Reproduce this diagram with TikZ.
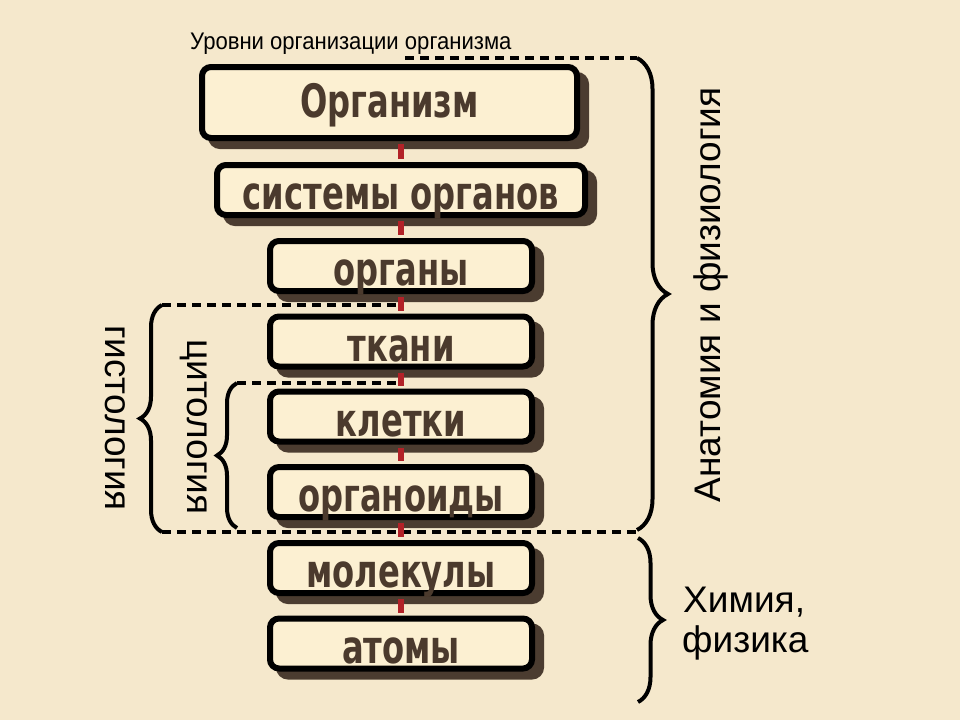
\documentclass[tikz,border=0pt]{standalone}
\usepackage{fontspec}
\setmainfont{Liberation Sans}
\newfontfamily\boxfont[FakeStretch=0.7]{DejaVu Sans}
\newfontfamily\titlefont[FakeStretch=0.92]{Liberation Sans}
\usetikzlibrary{shadows,decorations.pathreplacing}
\definecolor{bgc}{HTML}{F5E8CC}
\definecolor{boxc}{HTML}{FCF0D2}
\definecolor{shadowc}{HTML}{4B3C30}
\definecolor{txtc}{HTML}{4B3A2D}
\definecolor{redc}{HTML}{B22228}
\tikzset{
 lvl/.style={draw=black, line width=6pt, fill=boxc, rounded corners=9pt,
   minimum height=50pt, minimum width=262pt, inner sep=0pt,
   text height=39pt, text depth=0pt,
   font=\boxfont\bfseries\fontsize{46}{46}\selectfont, text=txtc,
   copy shadow={shadow xshift=9pt, shadow yshift=-8pt, fill=shadowc, draw=shadowc}},
 conn/.style={draw=redc, line width=6pt, shorten <=3pt, shorten >=3pt},
 dashln/.style={draw=black, line width=4.5pt, dash pattern=on 9pt off 6pt},
 brc/.style={draw=black, decorate, line width=4pt, decoration={brace, amplitude=#1}},
 lbl/.style={font=\fontsize{37}{40}\selectfont, text=black, inner sep=0pt},
}
\begin{document}
\begin{tikzpicture}[x=1pt,y=-1pt]
\fill[bgc] (0,0) rectangle (960,720);
\useasboundingbox (0,0) rectangle (960,720);

% title
\node[font=\titlefont\fontsize{24}{26}\selectfont, anchor=base west, inner sep=0pt] (title) at (190,49) {Уровни организации организма};

% level boxes
\node[lvl, minimum width=375pt, minimum height=71pt, text height=29pt] (org) at (389.5,102.5) {Организм};
\node[lvl, minimum width=368pt] (sys) at (401,190) {системы органов};
\node[lvl] (orgs) at (401,266) {органы};
\node[lvl] (tk) at (401,341.5) {ткани};
\node[lvl] (kl) at (401,416.5) {клетки};
\node[lvl] (ord) at (401,492) {органоиды};
\node[lvl] (mol) at (401,568) {молекулы};
\node[lvl] (at) at (401,643.5) {атомы};

% coordinates for braces
\coordinate (anaT) at (637,58);
\coordinate (anaB) at (637,530);
\coordinate (topL) at (405,58);
\coordinate (chT) at (638,538);
\coordinate (chB) at (638,702);
\coordinate (gisT) at (162,305);
\coordinate (gisB) at (162,532);
\coordinate (botR) at (637,532);
\coordinate (cytT) at (237,383);
\coordinate (cytB) at (237,528);

% dashed lines
\draw[dashln] (topL) -- (anaT);
\draw[dashln] (gisT) -- (gisT -| tk.north);
\draw[dashln] (cytT) -- (cytT -| kl.north);
\draw[dashln] (gisB) -- (botR);

% braces
\draw[brc=31pt] (anaT) -- (anaB);
\draw[brc=25pt] (chT) -- (chB);
\draw[brc=22pt] (gisB) -- (gisT);
\draw[brc=20pt] (cytB) -- (cytT);

% connectors
\draw[conn] (sys.north) -- (sys.north |- org.south);
\draw[conn] (sys) -- (orgs);
\draw[conn] (orgs) -- (tk);
\draw[conn] (tk) -- (kl);
\draw[conn] (kl) -- (ord);
\draw[conn] (ord) -- (mol);
\draw[conn] (mol) -- (at);

% labels
\node[lbl, rotate=90, anchor=base] (ana) at (720,295) {Анатомия и физиология};
\node[lbl, rotate=-90, anchor=base] (gis) at (105,418) {гистология};
\node[lbl, rotate=-90, anchor=base] (cyt) at (187,427) {цитология};
\node[lbl, anchor=base west] (him) at (683,612) {Химия,};
\node[lbl, anchor=base west] (fiz) at (682,652) {физика};
\end{tikzpicture}
\end{document}
